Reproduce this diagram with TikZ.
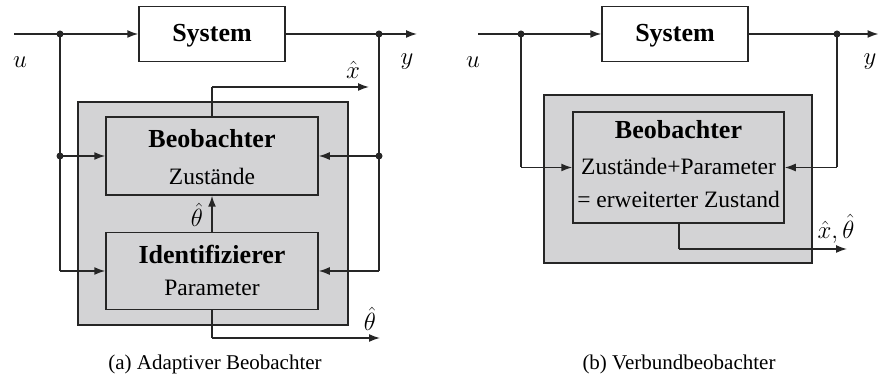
\documentclass[tikz,border=0pt]{standalone}
\usepackage{fontspec}
\setmainfont{Liberation Serif}
\usetikzlibrary{arrows.meta}
\definecolor{ln}{RGB}{38,38,38}
\definecolor{grayfill}{RGB}{211,211,213}
\tikzset{
  wire/.style={draw=ln, line width=1.5pt},
  arr/.style={wire, -{Latex[length=11pt,width=8pt]}},
  blk/.style={draw=ln, line width=1.5pt, rectangle, inner sep=0pt},
  graybox/.style={blk, fill=grayfill},
  title/.style={font=\fontsize{26}{30}\selectfont\bfseries, anchor=base, inner sep=0pt},
  sub/.style={font=\fontsize{23.5}{28}\selectfont, anchor=base, inner sep=0pt},
  mlab/.style={font=\fontsize{26}{30}\selectfont, inner sep=0pt},
  capt/.style={font=\fontsize{21}{25}\selectfont, anchor=base, inner sep=0pt},
  dot/.style={circle, fill=ln, inner sep=0pt, minimum size=7pt}
}
\begin{document}
\begin{tikzpicture}[x=1pt, y=-1pt]
\useasboundingbox (0,0) rectangle (879,379);
% ================= (a) =================
\node[blk, fill=white, minimum width=146pt, minimum height=55pt] (sys1) at (212,34) {};
\node[title] (sys1t) at (212,42) {System};
\node[graybox, minimum width=270pt, minimum height=223pt] (gray1) at (213,213.5) {};
\node[graybox, minimum width=212pt, minimum height=78pt] (beob1) at (212,156) {};
\node[title] (beob1t) at (212,148) {Beobachter};
\node[sub] (beob1s) at (212,185) {Zustände};
\node[graybox, minimum width=212pt, minimum height=77pt] (ident1) at (212,271) {};
\node[title] (ident1t) at (212,264) {Identifizierer};
\node[sub] (ident1s) at (212,296) {Parameter};

\coordinate (in1) at (14,34);
\node[dot] (da1) at (60,34) {};
\node[dot] (db1) at (60,156) {};
\coordinate (dc1) at (60,271);
\node[dot] (dy1) at (379,34) {};
\node[dot] (dz1) at (379,156) {};
\coordinate (dw1) at (379,271);
\coordinate (out1) at (417,34);
\coordinate (xh1) at (212,87);
\coordinate (xhe1) at (369,87);
\coordinate (th1) at (212,338);
\coordinate (the1) at (380,338);

\draw[wire] (in1) -- (da1.center);
\draw[arr] (da1.center) -- (sys1.west);
\draw[wire] (sys1.east) -- (dy1.center);
\draw[arr] (dy1.center) -- (out1);
\draw[wire] (da1.center) -- (dc1);
\draw[arr] (db1.center) -- (beob1.west);
\draw[arr] (dc1) -- (ident1.west);
\draw[wire] (dy1.center) -- (dw1);
\draw[arr] (dz1.center) -- (beob1.east);
\draw[arr] (dw1) -- (ident1.east);
\draw[wire] (beob1.north) -- (xh1);
\draw[arr] (xh1) -- (xhe1);
\draw[arr] (ident1.north) -- (beob1.south);
\draw[wire] (ident1.south) -- (th1);
\draw[arr] (th1) -- (the1);

\node[mlab] (u1) at (20,62) {$u$};
\node[mlab] (y1) at (407,62) {$y$};
\node[mlab] (xl1) at (353,70) {$\hat{x}$};
\node[mlab] (tl1) at (197,215) {$\hat{\theta}$};
\node[mlab] (tl2) at (370,319) {$\hat{\theta}$};
\node[capt] (capa) at (215,370) {(a) Adaptiver Beobachter};

% ================= (b) =================
\node[blk, fill=white, minimum width=146pt, minimum height=55pt] (sys2) at (675,34) {};
\node[title] (sys2t) at (675,42) {System};
\node[graybox, minimum width=268pt, minimum height=168pt] (gray2) at (678,179) {};
\node[graybox, minimum width=211pt, minimum height=111pt] (beob2) at (678.5,167.5) {};
\node[title] (beob2t) at (678.5,139) {Beobachter};
\node[sub] (beob2s) at (678.5,175) {Zustände+Parameter};
\node[sub] (beob2r) at (678.5,208) {= erweiterter Zustand};

\coordinate (in2) at (478,34);
\node[dot] (da2) at (521,34) {};
\coordinate (db2) at (521,167.5);
\node[dot] (dy2) at (837,34) {};
\coordinate (dz2) at (837,167.5);
\coordinate (out2) at (878.5,34);
\coordinate (ob2) at (679,223);
\coordinate (oc2) at (679,249);
\coordinate (oe2) at (847,249);

\draw[wire] (in2) -- (da2.center);
\draw[arr] (da2.center) -- (sys2.west);
\draw[wire] (sys2.east) -- (dy2.center);
\draw[arr] (dy2.center) -- (out2);
\draw[wire] (da2.center) -- (db2);
\draw[arr] (db2) -- (beob2.west);
\draw[wire] (dy2.center) -- (dz2);
\draw[arr] (dz2) -- (beob2.east);
\draw[wire] (ob2) -- (oc2);
\draw[arr] (oc2) -- (oe2);

\node[mlab] (u2) at (473,62) {$u$};
\node[mlab] (y2) at (870,62) {$y$};
\node[mlab] (xt2) at (836,229) {$\hat{x},\hat{\theta}$};
\node[capt] (capb) at (679,370) {(b) Verbundbeobachter};
\end{tikzpicture}
\end{document}
